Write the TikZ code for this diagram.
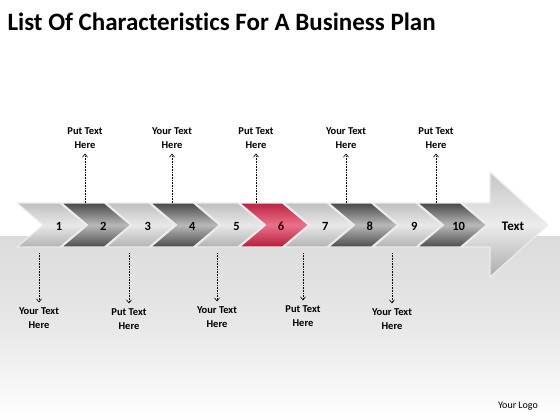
\documentclass[tikz,border=0pt]{standalone}
\usepackage{fontspec}
\setmainfont{Carlito}[Ligatures=NoCommon]
\usetikzlibrary{arrows.meta}
\definecolor{redtop}{RGB}{185,35,65}
\definecolor{redmid}{RGB}{236,112,138}
\definecolor{redbot}{RGB}{180,30,58}

\begin{document}
\begin{tikzpicture}[
        x=1pt, y=-1pt,
        node distance=44.4pt,
        >={Straight Barb[length=3pt,width=5pt]},
        chev/.style={draw=white!85!gray, line width=1.2pt, line join=round},
        lightchev/.style={chev, top color=gray!50, bottom color=gray!60, middle color=gray!18},
        darkchev/.style={chev, top color=black!72, bottom color=black!70, middle color=gray!55},
        redchev/.style={chev, top color=redtop, bottom color=redbot, middle color=redmid},
        num/.style={font=\fontsize{12.5}{14}\selectfont\bfseries},
        callout/.style={align=center, font=\fontsize{10.5}{14}\selectfont\bfseries, inner sep=1pt},
        link/.style={->, densely dotted, line width=0.6pt}
    ]
        \useasboundingbox (0,0) rectangle (560,420);

        % Background band
        \fill[top color=gray!28, bottom color=white, middle color=gray!18] (0,236) rectangle (560,420);

        % Title
        \node (title) [anchor=west, font=\fontsize{25}{28}\selectfont\bfseries] at (4,22) {List Of Characteristics For A Business Plan};

        % Chevrons
        \draw[lightchev] (17,203) -- ++(43,0) -- ++(26,22) -- ++(-26,22) -- ++(-43,0) -- ++(26,-22) -- cycle;
        \draw[darkchev] (61.5,203) -- ++(43,0) -- ++(26,22) -- ++(-26,22) -- ++(-43,0) -- ++(26,-22) -- cycle;
        \draw[lightchev] (106,203) -- ++(43,0) -- ++(26,22) -- ++(-26,22) -- ++(-43,0) -- ++(26,-22) -- cycle;
        \draw[darkchev] (150.5,203) -- ++(43,0) -- ++(26,22) -- ++(-26,22) -- ++(-43,0) -- ++(26,-22) -- cycle;
        \draw[lightchev] (195,203) -- ++(43,0) -- ++(26,22) -- ++(-26,22) -- ++(-43,0) -- ++(26,-22) -- cycle;
        \draw[redchev] (239.5,203) -- ++(43,0) -- ++(26,22) -- ++(-26,22) -- ++(-43,0) -- ++(26,-22) -- cycle;
        \draw[lightchev] (284,203) -- ++(43,0) -- ++(26,22) -- ++(-26,22) -- ++(-43,0) -- ++(26,-22) -- cycle;
        \draw[darkchev] (328.5,203) -- ++(43,0) -- ++(26,22) -- ++(-26,22) -- ++(-43,0) -- ++(26,-22) -- cycle;
        \draw[lightchev] (373,203) -- ++(43,0) -- ++(26,22) -- ++(-26,22) -- ++(-43,0) -- ++(26,-22) -- cycle;
        \draw[darkchev] (417.5,203) -- ++(43,0) -- ++(26,22) -- ++(-26,22) -- ++(-43,0) -- ++(26,-22) -- cycle;

        % Big arrow
        \draw[chev, top color=gray!45, bottom color=gray!65, middle color=gray!15] (462,203) -- (490,203) -- (490,172) -- (548,225)
            -- (490,277) -- (490,247) -- (462,247) -- (488,225) -- cycle;
        \node (txt) [font=\fontsize{13}{15}\selectfont\bfseries] at (513,226) {Text};

        % Numbers
        \node (n1) [num] at (59,226) {1};
        \node (n2) [num, right of=n1] {2};
        \node (n3) [num, right of=n2] {3};
        \node (n4) [num, right of=n3] {4};
        \node (n5) [num, right of=n4] {5};
        \node (n6) [num, right of=n5, text=black!80!red] {6};
        \node (n7) [num, right of=n6] {7};
        \node (n8) [num, right of=n7] {8};
        \node (n9) [num, right of=n8] {9};
        \node (n10) [num, right of=n9] {10};

        % Upper callouts
        \coordinate (top2) at (85,203);
        \coordinate (top4) at (172,203);
        \coordinate (top6) at (256,203);
        \coordinate (top8) at (346,203);
        \coordinate (top10) at (436,203);
        \node (up2) [callout] at (85,138) {Put Text\\Here};
        \node (up4) [callout] at (172,138) {Your Text\\Here};
        \node (up6) [callout] at (256,138) {Put Text\\Here};
        \node (up8) [callout] at (346,138) {Your Text\\Here};
        \node (up10) [callout] at (436,138) {Put Text\\Here};
        \draw[link, shorten >=4pt] (top2) -- (up2);
        \draw[link, shorten >=4pt] (top4) -- (up4);
        \draw[link, shorten >=4pt] (top6) -- (up6);
        \draw[link, shorten >=4pt] (top8) -- (up8);
        \draw[link, shorten >=4pt] (top10) -- (up10);

        % Lower callouts
        \coordinate (bot1) at (39,253);
        \coordinate (bot3) at (129,253);
        \coordinate (bot5) at (217,253);
        \coordinate (bot7) at (303,253);
        \coordinate (bot9) at (392,253);
        \node (dn1) [callout] at (39,318) {Your Text\\Here};
        \node (dn3) [callout] at (129,319) {Put Text\\Here};
        \node (dn5) [callout] at (217,317) {Your Text\\Here};
        \node (dn7) [callout] at (303,316) {Put Text\\Here};
        \node (dn9) [callout] at (392,319) {Your Text\\Here};
        \draw[link, shorten >=4pt] (bot1) -- (dn1);
        \draw[link, shorten >=4pt] (bot3) -- (dn3);
        \draw[link, shorten >=4pt] (bot5) -- (dn5);
        \draw[link, shorten >=4pt] (bot7) -- (dn7);
        \draw[link, shorten >=4pt] (bot9) -- (dn9);

        % Logo
        \node (logo) [font=\fontsize{10}{12}\selectfont] at (518,406) {Your Logo};
    \end{tikzpicture}
\end{document}
